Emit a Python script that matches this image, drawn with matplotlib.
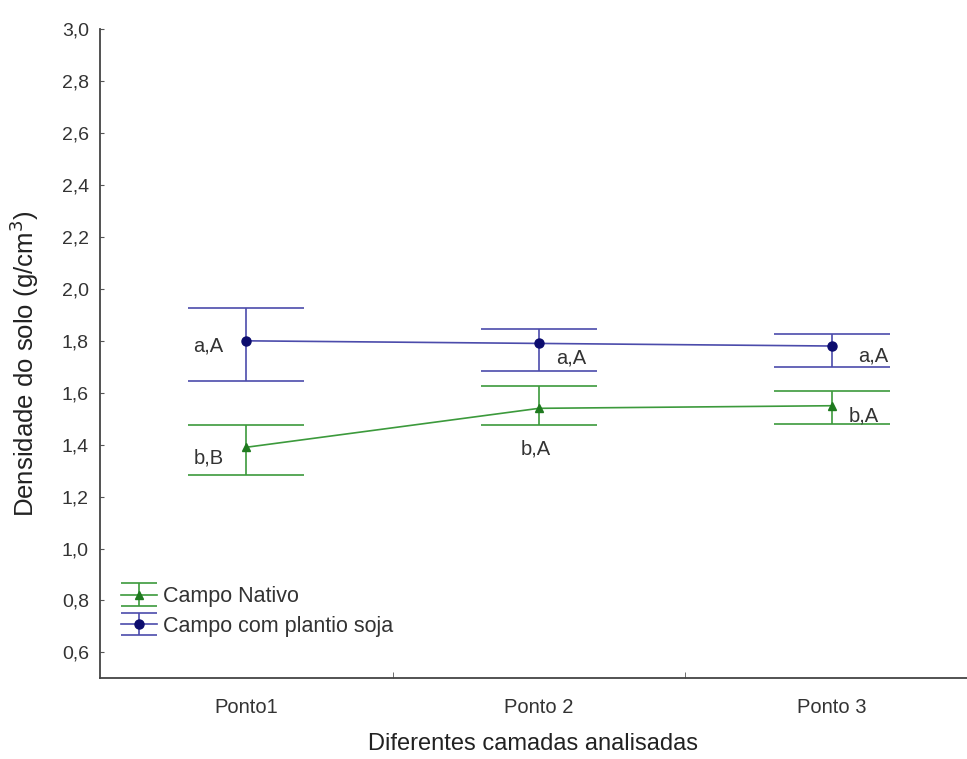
import matplotlib
matplotlib.use("Agg")
import matplotlib.pyplot as plt
import numpy as np
from matplotlib.ticker import FixedLocator
from matplotlib.legend_handler import HandlerErrorbar

categories = ["Ponto1", "Ponto 2", "Ponto 3"]
nativo_mean = [1.39, 1.54, 1.55]
nativo_low = [1.285, 1.475, 1.48]
nativo_high = [1.475, 1.625, 1.605]
soja_mean = [1.80, 1.79, 1.78]
soja_low = [1.645, 1.685, 1.70]
soja_high = [1.925, 1.845, 1.825]
nativo_labels = ["b,B", "b,A", "b,A"]
soja_labels = ["a,A", "a,A", "a,A"]
yticks = [0.6, 0.8, 1.0, 1.2, 1.4, 1.6, 1.8, 2.0, 2.2, 2.4, 2.6, 2.8, 3.0]

plt.rcParams['font.family'] = ['Liberation Sans', 'DejaVu Sans']

fig = plt.figure(figsize=(9.67, 7.59), dpi=100)
ax = fig.add_axes([0.1034, 0.1063, 0.8966, 0.8551])

x = list(range(len(categories)))
green = '#3c9a3c'
green_m = '#1f7a1f'
blue = '#4b4bab'
blue_m = '#0c0c6e'

def err(mean, low, high):
    return [[m - l for m, l in zip(mean, low)], [h - m for m, h in zip(mean, high)]]

common = dict(elinewidth=1.2, lw=1.2, capthick=1.2)
ax.errorbar(x, nativo_mean, yerr=err(nativo_mean, nativo_low, nativo_high),
            color=green, ecolor=green, capsize=42, marker='^', ms=6,
            mfc=green_m, mec=green_m, **common)
ax.errorbar(x, soja_mean, yerr=err(soja_mean, soja_low, soja_high),
            color=blue, ecolor=blue, capsize=42, marker='o', ms=6.5,
            mfc=blue_m, mec=blue_m, **common)

# legend proxies with small caps (no visible data)
p1 = ax.errorbar([np.nan], [np.nan], yerr=[[0.1], [0.1]], color=green, ecolor=green,
                 capsize=13, marker='^', ms=6, mfc=green_m, mec=green_m,
                 label='Campo Nativo', **common)
p2 = ax.errorbar([np.nan], [np.nan], yerr=[[0.1], [0.1]], color=blue, ecolor=blue,
                 capsize=13, marker='o', ms=6.5, mfc=blue_m, mec=blue_m,
                 label='Campo com plantio soja', **common)

# annotations (offsets in data units relative to each point)
soja_off = [(-0.13, -0.02), (0.11, -0.055), (0.14, -0.04)]
nativo_off = [(-0.13, -0.04), (-0.01, -0.155), (0.11, -0.04)]
for i in x:
    dx, dy = soja_off[i]
    ax.text(i + dx, soja_mean[i] + dy, soja_labels[i], ha='center', va='center',
            fontsize=14.5, color='#333333')
    dx, dy = nativo_off[i]
    ax.text(i + dx, nativo_mean[i] + dy, nativo_labels[i], ha='center', va='center',
            fontsize=14.5, color='#333333')

ax.set_xlim(-0.5, 2.462)
ax.set_ylim(0.5, 3.0)
ax.set_yticks(yticks)
ax.set_yticklabels([f"{v:.1f}".replace('.', ',') for v in yticks])
ax.set_xticks(x)
ax.set_xticklabels(categories)
ax.xaxis.set_minor_locator(FixedLocator([0.5, 1.5]))
ax.tick_params(axis='x', which='major', length=0, pad=14, labelsize=14.5, labelcolor='#333333')
ax.tick_params(axis='x', which='minor', direction='in', length=4, color='#555555')
ax.tick_params(axis='y', direction='in', length=3, pad=8, labelsize=14,
               labelcolor='#333333', color='#555555')

for s in ['top', 'right']:
    ax.spines[s].set_visible(False)
for s in ['left', 'bottom']:
    ax.spines[s].set_color('#444444')
    ax.spines[s].set_linewidth(1.3)

ax.set_xlabel('Diferentes camadas analisadas', fontsize=17, color='#222222', labelpad=12)
ax.set_ylabel('Densidade do solo (g/cm$^3$)', fontsize=18.5, color='#222222')
ax.yaxis.set_label_coords(-0.068, 0.485)

leg = ax.legend(handles=[p1, p2], loc='center left', bbox_to_anchor=(0.024, 0.103),
                frameon=False, fontsize=15.5, handlelength=1.7, handletextpad=0.25,
                labelspacing=0.38, borderpad=0, borderaxespad=0,
                handler_map={type(p1): HandlerErrorbar(yerr_size=0.53)})
for t in leg.get_texts():
    t.set_color('#333333')

fig.savefig('out.png', dpi=100)
